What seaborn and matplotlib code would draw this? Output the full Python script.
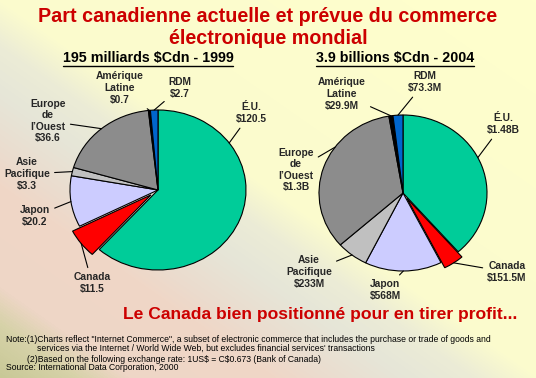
import numpy as np
import matplotlib
matplotlib.use("Agg")
import matplotlib.pyplot as plt
from matplotlib.colors import LinearSegmentedColormap
from matplotlib.lines import Line2D
import seaborn as sns

sns.set_style("white")
plt.rcParams['font.family'] = ['Liberation Sans', 'DejaVu Sans']

# ---- data ----
categories = ["É.U.", "Canada", "Japon", "Asie\nPacifique", "Europe\nde\nl’Ouest",
              "Amérique\nLatine", "RDM"]
values_1999 = [120.5, 11.5, 20.2, 3.3, 36.6, 0.7, 2.7]          # milliards $Cdn
labels_1999 = ["$120.5", "$11.5", "$20.2", "$3.3", "$36.6", "$0.7", "$2.7"]
values_2004 = [1480, 151.5, 568, 233, 1300, 29.9, 73.3]           # millions $Cdn
labels_2004 = ["$1.48B", "$151.5M", "$568M", "$233M", "$1.3B", "$29.9M", "$73.3M"]
explode_1999 = [0, 0.1, 0, 0, 0, 0, 0]
explode_2004 = [0, 0.08, 0, 0, 0, 0, 0]

title = "Part canadienne actuelle et prévue du commerce\nélectronique mondial"
sub_1999 = "195 milliards $Cdn - 1999"
sub_2004 = "3.9 billions $Cdn - 2004"
footer = "Le Canada bien positionné pour en tirer profit..."
notes = [
    "Note:(1)Charts reflect \"Internet Commerce\", a subset of electronic commerce that includes the purchase or trade of goods and",
    "services via the Internet / World Wide Web, but excludes financial services' transactions",
    "(2)Based on the following exchange rate: 1US$ = C$0.673 (Bank of Canada)",
    "Source: International Data Corporation, 2000",
]

colors = sns.color_palette(["#00CC99", "#FF0000", "#CCCCFF", "#C0C0C0",
                            "#8C8C8C", "#000000", "#0066CC"])

W, H = 536, 378
fig = plt.figure(figsize=(W / 100, H / 100), dpi=100)

# ---- background diagonal gradient ----
yy, xx = np.mgrid[0:H, 0:W]
s = (yy - 0.7 * xx + 375) / (378 + 375)
stops = [(0.0, "#FFFFCC"), (0.50, "#FBFBCE"), (0.56, "#ECECD6"), (0.62, "#E6E6D8"),
         (0.70, "#EBDCCE"), (0.75, "#F0D6C6"), (0.88, "#EED6C6"), (0.93, "#D6D2A8"),
         (1.0, "#C8C896")]
cmap = LinearSegmentedColormap.from_list("bg", stops)
fig.figimage(cmap(s), 0, 0, origin="upper", zorder=-10)

def px_axes(cx, cy, rx, ry):
    return fig.add_axes([(cx - rx) / W, (H - cy - ry) / H, 2 * rx / W, 2 * ry / H])

def draw_pie(ax, vals, explode):
    wedges, _ = ax.pie(vals, colors=colors, startangle=90, counterclock=False,
                       explode=explode,
                       wedgeprops=dict(edgecolor="black", linewidth=0.8))
    ax.set_aspect("auto")
    ax.set_xlim(-1, 1)
    ax.set_ylim(-1, 1)
    ax.axis("off")
    for w in wedges:
        w.set_clip_on(False)
    return wedges

def label(ax, wedge, text, tx, ty, ang=None, r=1.0):
    if ang is None:
        ang = (wedge.theta1 + wedge.theta2) / 2
    cx, cy = wedge.center
    x = cx + r * np.cos(np.radians(ang))
    y = cy + r * np.sin(np.radians(ang))
    ax.annotate(text, xy=(x, y), xytext=(tx, H - ty), textcoords="figure pixels",
                ha="center", va="center", fontsize=7.4, fontweight="bold",
                linespacing=1.2, annotation_clip=False, parse_math=False,
                arrowprops=dict(arrowstyle="-", color="black", lw=0.8,
                                shrinkA=1, shrinkB=0))

# ---- left pie ----
ax1 = px_axes(158, 190, 88, 80)
w1 = draw_pie(ax1, values_1999, explode_1999)
pos1 = [(251, 113, 36), (92, 283, None), (35, 216, None), (27, 174, None),
        (48, 121, None), (120, 88, None), (180, 88, None)]
for w, c, v, (tx, ty, a) in zip(w1, categories, labels_1999, pos1):
    label(ax1, w, f"{c}\n{v}", tx, ty, a)

# ---- right pie ----
ax2 = px_axes(403, 193, 84, 78)
w2 = draw_pie(ax2, values_2004, explode_2004)
pos2 = [(503, 124, 27), (507, 272, None), (385, 290, None), (309, 272, None),
        (296, 170, 144), (342, 94, None), (425, 82, None)]
for w, c, v, (tx, ty, a) in zip(w2, categories, labels_2004, pos2):
    label(ax2, w, f"{c}\n{v}", tx, ty, a)

# ---- texts ----
fig.text(268 / W, 1 - 27 / H, title, ha="center", va="center", color="#CC0000",
         fontsize=14.2, fontweight="bold", linespacing=1.2, parse_math=False)
subs = []
for txt, x in [(sub_1999, 148), (sub_2004, 395)]:
    subs.append(fig.text(x / W, 1 - 58 / H, txt, ha="center", va="center",
                         fontsize=10.3, fontweight="bold", color="black",
                         parse_math=False))
fig.text(320 / W, 1 - 314 / H, footer, ha="center", va="center", color="#CC0000",
         fontsize=12.6, fontweight="bold", parse_math=False)
note_pos = [(6, 339), (37, 348), (27, 359), (6, 368)]
for t, (x, y) in zip(notes, note_pos):
    fig.text(x / W, 1 - y / H, t, ha="left", va="center", fontsize=6.2,
             color="black", parse_math=False)

fig.canvas.draw()
r = fig.canvas.get_renderer()
for t in subs:
    bb = t.get_window_extent(r)
    fig.add_artist(Line2D([bb.x0 / W, bb.x1 / W], [(bb.y0 - 0.5) / H] * 2,
                          color="black", lw=1.0, transform=fig.transFigure))

fig.savefig("out.png", dpi=100)
